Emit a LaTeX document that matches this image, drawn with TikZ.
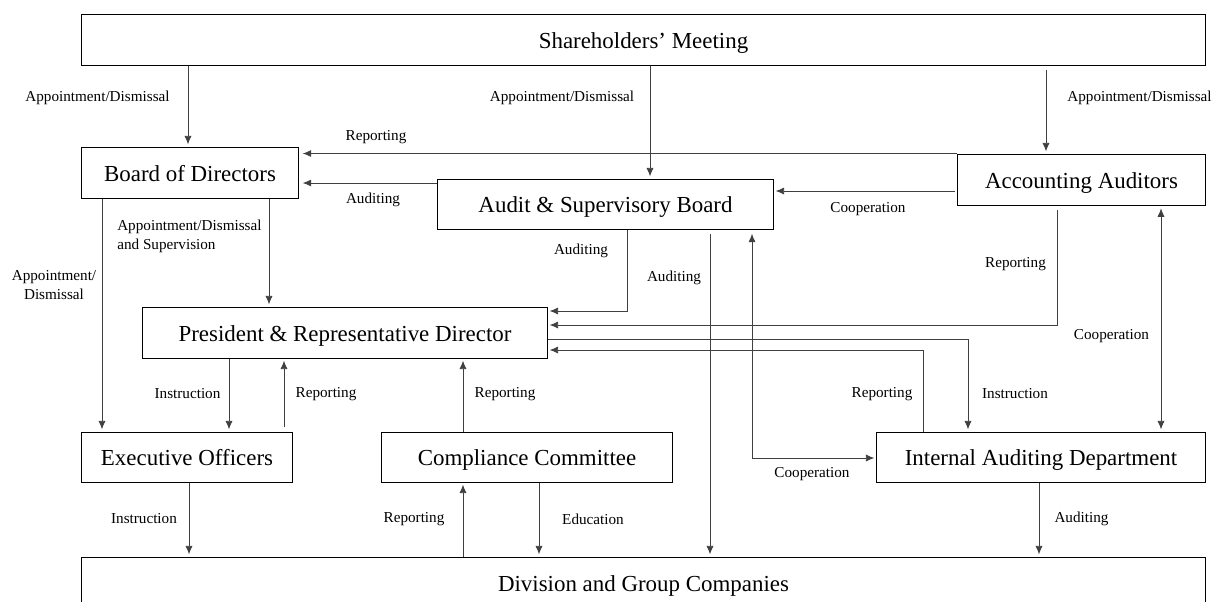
\documentclass[tikz,border=0pt]{standalone}
\usepackage{fontspec}
\setmainfont{Liberation Serif}
\usetikzlibrary{arrows.meta}

\begin{document}
\begin{tikzpicture}[x=0.025cm, y=-0.025cm,
		>={Latex[length=6pt,width=5pt]},
		box/.style={draw, line width=0.7pt, inner sep=0pt, text height=12.1pt, text depth=0pt, minimum height=1.275cm, font=\fontsize{16.3}{19}\selectfont},
		link/.style={line width=0.55pt, black!75, shorten >=1.5pt},
		lbl/.style={inner sep=0pt, font=\fontsize{10.8}{13.3}\selectfont}]
			\clip (0,0) rectangle (1214,601);
			
			% boxes
			\node[box, minimum width=28.075cm] (sm) at (643.5,39.5) {Shareholders' Meeting};
			\node[box, minimum width=5.4cm] (bod) at (190,172.5) {Board of Directors};
			\node[box, minimum width=8.375cm, minimum height=1.25cm] (asb) at (605.5,204) {Audit \& Supervisory Board};
			\node[box, minimum width=6.175cm] (aa) at (1081.5,179.5) {Accounting Auditors};
			\node[box, minimum width=10.1cm] (prd) at (345,332.5) {President \& Representative Director};
			\node[box, minimum width=5.25cm, minimum height=1.25cm] (eo) at (187,457) {Executive Officers};
			\node[box, minimum width=7.25cm, minimum height=1.25cm] (cc) at (527,457) {Compliance Committee};
			\node[box, minimum width=8.2cm, minimum height=1.25cm] (iad) at (1041,457) {Internal Auditing Department};
			\node[box, minimum width=28.075cm, minimum height=1.3cm] (dgc) at (643.5,583) {Division and Group Companies};
			
			% from the shareholders
			\draw[link, ->] (sm.south -| 188,0) -- (bod.north -| 188,0);
			\draw[link, ->] (sm.south -| 650,0) -- (asb.north -| 650,0);
			\draw[link, ->, shorten <=3pt] (sm.south -| 1046,0) -- (aa.north -| 1046,0);
			\node[lbl] (l1) at (97.5,98) {Appointment/Dismissal};
			\node[lbl] (l2) at (562,98) {Appointment/Dismissal};
			\node[lbl] (l3) at (1139.5,98) {Appointment/Dismissal};
			
			% into the board
			\draw[link, ->, shorten >=3pt] (aa.north west) -- (bod.east |- aa.north west);
			\draw[link, ->, shorten >=3pt] (asb.west |- 0,183) -- (bod.east |- 0,183);
			\draw[link, ->, shorten <=2pt] (aa.west |- 0,191) -- (asb.east |- 0,191);
			\node[lbl] (l4) at (376,137) {Reporting};
			\node[lbl] (l5) at (373,200) {Auditing};
			\node[lbl] (l6) at (868,209) {Cooperation};
			
			% from the board
			\draw[link, ->] (bod.south -| 269,0) -- (prd.north -| 269,0);
			\draw[link, ->] (bod.south -| 102,0) -- (eo.north -| 102,0);
			\node[lbl, anchor=west, align=left] (l7) at (117,236) {Appointment/Dismissal\\and Supervision};
			\node[lbl, align=center] (l8) at (54,285) {Appointment/\\Dismissal};
			
			% auditors towards the president
			\draw[link, ->] (asb.south -| 627,0) -- (627,311) -- (prd.east |- 0,311);
			\draw[link, ->, shorten <=3pt] (aa.south -| 1057,0) -- (1057,325) -- (prd.east |- 0,325);
			\draw[link, ->, shorten <=3pt] (asb.south -| 710,0) -- (dgc.north -| 710,0);
			\node[lbl] (l9) at (581,251) {Auditing};
			\node[lbl] (l10) at (674,278) {Auditing};
			\node[lbl] (l11) at (1015.5,264) {Reporting};
			
			% cooperation
			\draw[link, <->, shorten <=3pt] (asb.south -| 752,0) -- (752,458) -- (iad.west |- 0,458);
			\draw[link, <->, shorten <=2pt] (aa.south -| 1161,0) -- (iad.north -| 1161,0);
			\node[lbl] (l12) at (812,474) {Cooperation};
			\node[lbl] (l13) at (1111.5,336) {Cooperation};
			
			% president and internal auditing
			\draw[link, ->] (prd.east |- 0,339) -- (968,339) -- (iad.north -| 968,0);
			\draw[link, ->] (iad.north -| 923,0) -- (923,350) -- (prd.east |- 0,350);
			\node[lbl] (l14) at (1015,394) {Instruction};
			\node[lbl] (l15) at (882,394) {Reporting};
			
			% president and the lower boxes
			\draw[link, ->] (prd.south -| 229,0) -- (eo.north -| 229,0);
			\draw[link, ->, shorten <=3pt] (eo.north -| 284,0) -- (prd.south -| 284,0);
			\draw[link, ->] (cc.north -| 463,0) -- (prd.south -| 463,0);
			\node[lbl] (l16) at (187.5,394) {Instruction};
			\node[lbl] (l17) at (326,394) {Reporting};
			\node[lbl] (l18) at (505,394) {Reporting};
			
			% down to the companies
			\draw[link, ->] (eo.south -| 189,0) -- (dgc.north -| 189,0);
			\draw[link, ->] (dgc.north -| 463,0) -- (cc.south -| 463,0);
			\draw[link, ->] (cc.south -| 539,0) -- (dgc.north -| 539,0);
			\draw[link, ->] (iad.south -| 1039,0) -- (dgc.north -| 1039,0);
			\node[lbl] (l19) at (144,519) {Instruction};
			\node[lbl] (l20) at (414,519) {Reporting};
			\node[lbl] (l21) at (593,519) {Education};
			\node[lbl] (l22) at (1081.5,519) {Auditing};
		\end{tikzpicture}
\end{document}
